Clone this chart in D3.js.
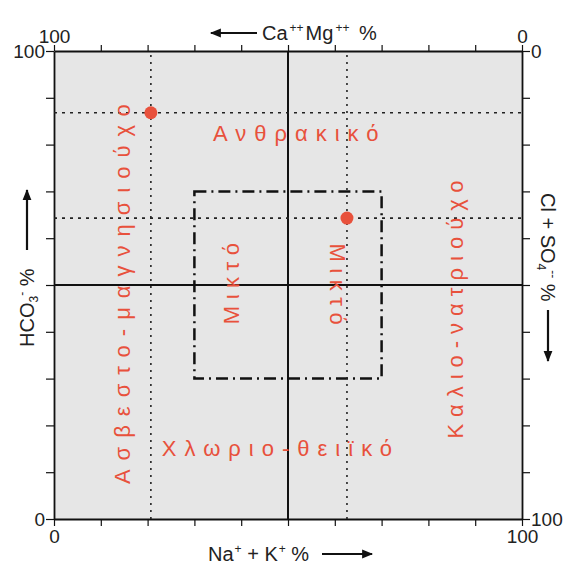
<!DOCTYPE html>
<html>
<head>
<meta charset="utf-8">
<script src="https://cdn.jsdelivr.net/npm/d3@7"></script>
<style>
  html, body { margin: 0; padding: 0; background: #fff; }
  svg { display: block; font-family: "Liberation Sans", Arial, sans-serif; }
</style>
</head>
<body>
<svg id="chart" width="565" height="566"></svg>
<script>
// Water samples: cation share Na+K (%) and anion share HCO3 (%)
const sampleNaK = [20.7, 62.6];
const sampleHCO3 = [86.8, 64.3];

// Axis ticks (percent)
const tickValues = [0, 10, 20, 30, 40, 50, 60, 70, 80, 90, 100];
const endLabels = [0, 100];

// Bounds of the mixed-type field (percent on both axes)
const mixedBounds = [30, 70];

// Water-type field names
const typeNames = ["Ανθρακικό", "Χλωριο-θειϊκό", "Ασβεστο-μαγνησιούχο", "Καλιο-νατριούχο", "Μικτό", "Μικτό"];

const svg = d3.select("#chart");
const red = "#e8513c";
const plot = { left: 54, right: 522, top: 51, bottom: 519 };

const x = d3.scaleLinear().domain([0, 100]).range([plot.left, plot.right]);
const y = d3.scaleLinear().domain([0, 100]).range([plot.bottom, plot.top]);
const xTop = d3.scaleLinear().domain([100, 0]).range([plot.left, plot.right]);
const yRight = d3.scaleLinear().domain([0, 100]).range([plot.top, plot.bottom]);

const fmt = d => endLabels.includes(d) ? d : "";

// Background
svg.append("rect")
  .attr("x", x(0)).attr("y", y(100))
  .attr("width", x(100) - x(0)).attr("height", y(0) - y(100))
  .attr("fill", "#e6e6e6");

// Axes
function styleAxis(g) {
  g.selectAll("path.domain").attr("stroke", "#111").attr("stroke-width", 1.8);
  g.selectAll(".tick line").attr("stroke", "#111").attr("stroke-width", 1.2);
  g.selectAll(".tick text").attr("fill", "#222").attr("font-size", 19)
    .attr("font-family", "'Liberation Sans', Arial, sans-serif");
}
svg.append("g").attr("transform", `translate(0,${plot.bottom})`)
  .call(d3.axisBottom(x).tickValues(tickValues).tickFormat(fmt).tickSize(7).tickSizeOuter(0).tickPadding(4))
  .call(styleAxis);
svg.append("g").attr("transform", `translate(0,${plot.top})`)
  .call(d3.axisTop(xTop).tickValues(tickValues).tickFormat(fmt).tickSize(6).tickSizeOuter(0).tickPadding(2))
  .call(styleAxis);
svg.append("g").attr("transform", `translate(${plot.left},0)`)
  .call(d3.axisLeft(y).tickValues(tickValues).tickFormat(fmt).tickSize(8).tickSizeOuter(0).tickPadding(1))
  .call(styleAxis);
svg.append("g").attr("transform", `translate(${plot.right},0)`)
  .call(d3.axisRight(yRight).tickValues(tickValues).tickFormat(fmt).tickSize(8).tickSizeOuter(0).tickPadding(1))
  .call(styleAxis);

// Centre lines at 50 %
svg.append("line").attr("x1", x(50)).attr("x2", x(50)).attr("y1", y(0)).attr("y2", y(100))
  .attr("stroke", "#111").attr("stroke-width", 2);
svg.append("line").attr("x1", x(0)).attr("x2", x(100)).attr("y1", y(50)).attr("y2", y(50))
  .attr("stroke", "#111").attr("stroke-width", 2);

// Mixed-type field
svg.append("rect")
  .attr("x", x(mixedBounds[0])).attr("y", y(mixedBounds[1]))
  .attr("width", x(mixedBounds[1]) - x(mixedBounds[0]))
  .attr("height", y(mixedBounds[0]) - y(mixedBounds[1]))
  .attr("fill", "none").attr("stroke", "#111").attr("stroke-width", 2.5)
  .attr("stroke-dasharray", "12 5 2 5");

// Guide lines through each sample
const samples = sampleNaK.map((v, i) => ({ nak: v, hco3: sampleHCO3[i] }));
svg.append("g").selectAll("line").data(samples).join("line")
  .attr("x1", x(0)).attr("x2", x(100))
  .attr("y1", d => y(d.hco3)).attr("y2", d => y(d.hco3))
  .attr("stroke", "#222").attr("stroke-width", 1.6).attr("stroke-dasharray", "3 5");
svg.append("g").selectAll("line").data(samples).join("line")
  .attr("x1", d => x(d.nak)).attr("x2", d => x(d.nak))
  .attr("y1", y(0)).attr("y2", y(100))
  .attr("stroke", "#222").attr("stroke-width", 1.6).attr("stroke-dasharray", "2 5");

// Field names
const labelStyle = (sel, spacing) => sel.attr("fill", red).attr("font-size", 22)
  .attr("letter-spacing", spacing).attr("text-anchor", "middle")
  .attr("font-family", "'Liberation Sans', Arial, sans-serif");
svg.append("text").attr("x", x(52.5)).attr("y", y(80.8)).text(typeNames[0]).call(labelStyle, 8);
svg.append("text").attr("x", x(48.5)).attr("y", y(13.5)).text(typeNames[1]).call(labelStyle, 8);
svg.append("text").attr("transform", `translate(${x(16.2)},${y(49)}) rotate(-90)`).text(typeNames[2]).call(labelStyle, 9);
svg.append("text").attr("transform", `translate(${x(87.4)},${y(45.5)}) rotate(-90)`).text(typeNames[3]).call(labelStyle, 7);
svg.append("text").attr("transform", `translate(${x(39.5)},${y(51)}) rotate(-90)`).text(typeNames[4]).call(labelStyle, 6.5);
svg.append("text").attr("transform", `translate(${x(59)},${y(49.5)}) rotate(90)`).text(typeNames[5]).call(labelStyle, 6.5);

// Sample points
svg.append("g").selectAll("circle").data(samples).join("circle")
  .attr("cx", d => x(d.nak)).attr("cy", d => y(d.hco3)).attr("r", 6.5)
  .attr("fill", red);

// Axis titles
const defs = svg.append("defs");
defs.append("marker").attr("id", "head").attr("viewBox", "0 0 10 10")
  .attr("refX", 9).attr("refY", 5).attr("markerWidth", 6).attr("markerHeight", 5)
  .attr("markerUnits", "strokeWidth").attr("orient", "auto")
  .append("path").attr("d", "M0,1 L10,5 L0,9 Z").attr("fill", "#111");

function arrow(x1, y1, x2, y2) {
  svg.append("line").attr("x1", x1).attr("y1", y1).attr("x2", x2).attr("y2", y2)
    .attr("stroke", "#111").attr("stroke-width", 2.2).attr("marker-end", "url(#head)");
}
function title(parts, transform) {
  const t = svg.append("text").attr("transform", transform)
    .attr("font-size", 20).attr("fill", "#222").attr("text-anchor", "start")
    .attr("font-family", "'Liberation Sans', Arial, sans-serif");
  parts.forEach(p => {
    t.append("tspan").text(p.s)
      .attr("dx", p.dx || null)
      .attr("font-size", p.sup || p.sub ? 12 : 20)
      .attr("baseline-shift", p.sup ? "70%" : p.sub ? "-30%" : null);
  });
  return t;
}

// Top: Ca++ Mg++ %
arrow(257, 33, 211, 33);
title([{ s: "Ca" }, { s: "++", sup: true, dx: 2 }, { s: "Mg", dx: 2 }, { s: "++", sup: true, dx: 2 }, { s: " %", dx: 4 }], "translate(262,40)");

// Bottom: Na+ + K+ %
title([{ s: "Na" }, { s: "+", sup: true, dx: 1 }, { s: " + K" }, { s: "+", sup: true, dx: 1 }, { s: " %" }], "translate(208,561)");
arrow(322, 554, 372, 554);

// Left: HCO3- %
arrow(27, 250, 27, 190);
title([{ s: "HCO" }, { s: "3", sub: true }, { s: "-", sup: true }, { s: " %" }], "translate(34,347) rotate(-90)");

// Right: Cl + SO4-- %
title([{ s: "Cl + SO" }, { s: "4", sub: true }, { s: "--", sup: true }, { s: " %" }], "translate(541,193) rotate(90)");
arrow(548, 310, 548, 361);
</script>
</body>
</html>
